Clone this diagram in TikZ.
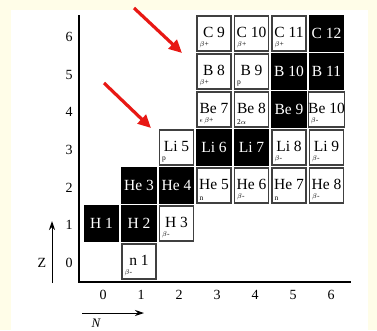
\documentclass[tikz,border=0pt]{standalone}
\usepackage{fontspec}
\setmainfont{Liberation Serif}
\usetikzlibrary{arrows.meta}
\definecolor{cream}{RGB}{255,253,232}
\definecolor{redarr}{RGB}{232,24,20}
\tikzset{
  cellw/.style={draw=black!75, line width=1.1pt, fill=white, minimum width=34pt, minimum height=35pt, inner sep=0pt, font=\fontsize{15.5}{15.5}\selectfont},
  cellb/.style={draw=black, line width=1.1pt, fill=black, text=white, minimum width=34pt, minimum height=35pt, inner sep=0pt, font=\fontsize{15.5}{15.5}\selectfont},
  decay/.style={font=\fontsize{7.5}{7.5}\selectfont, inner sep=0pt, anchor=south west},
  axlab/.style={font=\fontsize{14}{14}\selectfont, inner sep=0pt},
  axisline/.style={line width=1.3pt},
  redarrow/.style={draw=redarr, line width=3.2pt, -{Triangle[length=13pt,width=12pt]}}
}
\newcommand{\wcell}[4]{% N Z name decay
  \node[cellw] (c#1#2) at ({101.5+37.5*#1},{261.5-38*#2}) {\raisebox{3pt}{#3}};
  \node[decay] (d#1#2) at ([xshift=3pt,yshift=3pt]c#1#2.south west) {#4};
}
\newcommand{\bcell}[3]{%
  \node[cellb] (c#1#2) at ({101.5+37.5*#1},{261.5-38*#2}) {#3};
}
\begin{document}
\begin{tikzpicture}[x=1pt,y=-1pt]
\fill[cream] (0,0) rectangle (377,330);
\fill[white] (11,10) rectangle (368,330);
\useasboundingbox (0,0) rectangle (377,330);
% axes
\coordinate (ytop) at (79,15);
\coordinate (orig) at (79,282);
\coordinate (xend) at (351,282);
\draw[axisline] (ytop) -- (orig) -- (xend);
% cells
\wcell{1}{0}{n 1}{$\beta$-}
\bcell{0}{1}{H 1}
\bcell{1}{1}{H 2}
\wcell{2}{1}{H 3}{$\beta$-}
\bcell{1}{2}{He 3}
\bcell{2}{2}{He 4}
\wcell{3}{2}{He 5}{n}
\wcell{4}{2}{He 6}{$\beta$-}
\wcell{5}{2}{He 7}{n}
\wcell{6}{2}{He 8}{$\beta$-}
\wcell{2}{3}{Li 5}{p}
\bcell{3}{3}{Li 6}
\bcell{4}{3}{Li 7}
\wcell{5}{3}{Li 8}{$\beta$-}
\wcell{6}{3}{Li 9}{$\beta$-}
\wcell{3}{4}{Be 7}{$\epsilon\,\beta$+}
\wcell{4}{4}{Be 8}{2$\alpha$}
\bcell{5}{4}{Be 9}
\wcell{6}{4}{Be 10}{$\beta$-}
\wcell{3}{5}{B 8}{$\beta$+}
\wcell{4}{5}{B 9}{p}
\bcell{5}{5}{B 10}
\bcell{6}{5}{B 11}
\wcell{3}{6}{C 9}{$\beta$+}
\wcell{4}{6}{C 10}{$\beta$+}
\wcell{5}{6}{C 11}{$\beta$+}
\bcell{6}{6}{C 12}
% axis labels
\foreach \n in {0,...,6} {
  \node[axlab] (nl\n) at ({103+38*\n},295) {\n};
}
\foreach \z in {0,...,6} {
  \node[axlab] (zl\z) at (69,{263-37.7*\z}) {\z};
}
% Z and N arrows
\coordinate (za) at (52,283);
\coordinate (zb) at (52,221);
\draw[line width=1pt, -{Stealth[length=9pt,width=6pt]}] (za) -- (zb);
\node[axlab] (zlab) at (42,263) {Z};
\coordinate (na) at (82,313);
\coordinate (nb) at (144,313);
\draw[line width=1pt, -{Stealth[length=9pt,width=6pt]}] (na) -- (nb);
\node[axlab, font=\fontsize{13}{13}\selectfont\itshape] (nlab) at (96,323) {N};
% red arrows
\coordinate (r1a) at (134,8);
\coordinate (r1b) at (182,53);
\coordinate (r2a) at (104,83);
\coordinate (r2b) at (151,128);
\draw[redarrow] (r1a) -- (r1b);
\draw[redarrow] (r2a) -- (r2b);
\end{tikzpicture}
\end{document}
